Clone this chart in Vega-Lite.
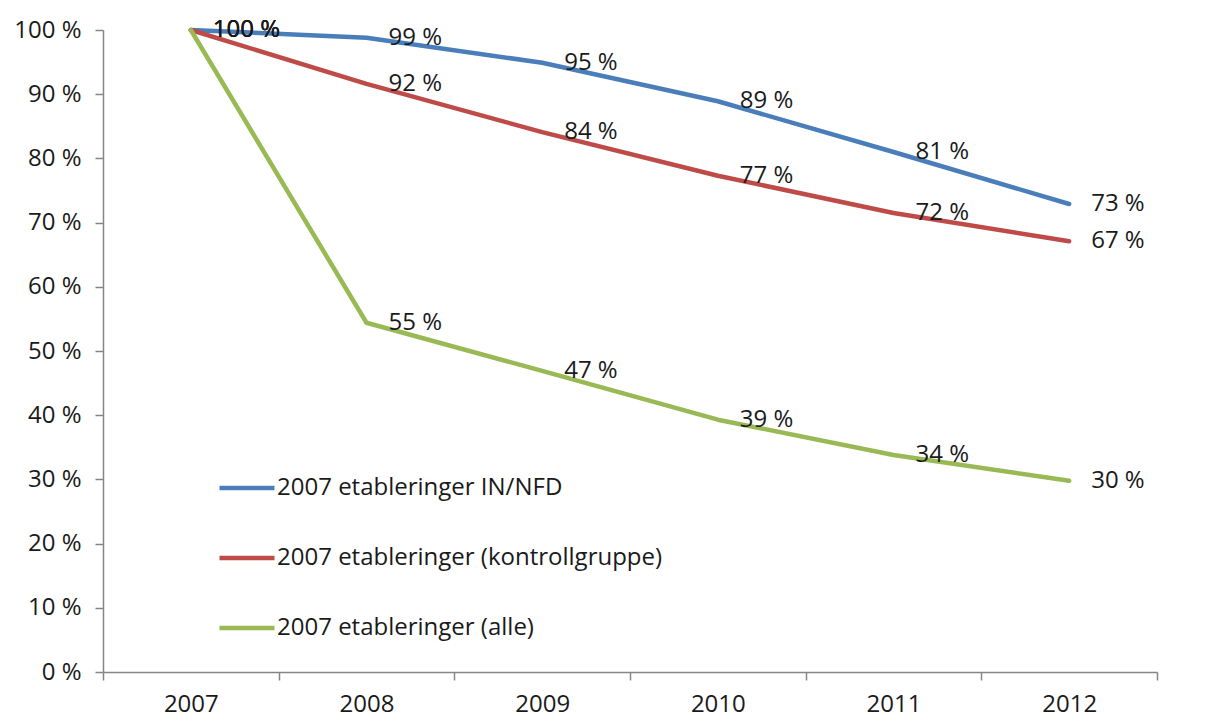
{
  "$schema": "https://vega.github.io/schema/vega-lite/v6.json",
  "width": 1054,
  "height": 642,
  "autosize": {"type": "none"},
  "padding": {"left": 103, "top": 30, "right": 62, "bottom": 50},
  "background": "white",
  "config": {"view": {"stroke": null}, "font": "Open Sans"},
  "data": {
    "values": [
      {"year": "2007", "series": "2007 etableringer IN/NFD", "value": 100, "label": "100 %"},
      {"year": "2008", "series": "2007 etableringer IN/NFD", "value": 98.8, "label": "99 %"},
      {"year": "2009", "series": "2007 etableringer IN/NFD", "value": 94.9, "label": "95 %"},
      {"year": "2010", "series": "2007 etableringer IN/NFD", "value": 88.9, "label": "89 %"},
      {"year": "2011", "series": "2007 etableringer IN/NFD", "value": 81.0, "label": "81 %"},
      {"year": "2012", "series": "2007 etableringer IN/NFD", "value": 72.9, "label": "73 %"},
      {"year": "2007", "series": "2007 etableringer (kontrollgruppe)", "value": 100, "label": "100 %"},
      {"year": "2008", "series": "2007 etableringer (kontrollgruppe)", "value": 91.6, "label": "92 %"},
      {"year": "2009", "series": "2007 etableringer (kontrollgruppe)", "value": 84.1, "label": "84 %"},
      {"year": "2010", "series": "2007 etableringer (kontrollgruppe)", "value": 77.3, "label": "77 %"},
      {"year": "2011", "series": "2007 etableringer (kontrollgruppe)", "value": 71.5, "label": "72 %"},
      {"year": "2012", "series": "2007 etableringer (kontrollgruppe)", "value": 67.1, "label": "67 %"},
      {"year": "2007", "series": "2007 etableringer (alle)", "value": 100, "label": "100 %"},
      {"year": "2008", "series": "2007 etableringer (alle)", "value": 54.4, "label": "55 %"},
      {"year": "2009", "series": "2007 etableringer (alle)", "value": 46.9, "label": "47 %"},
      {"year": "2010", "series": "2007 etableringer (alle)", "value": 39.3, "label": "39 %"},
      {"year": "2011", "series": "2007 etableringer (alle)", "value": 33.8, "label": "34 %"},
      {"year": "2012", "series": "2007 etableringer (alle)", "value": 29.8, "label": "30 %"}
    ]
  },
  "encoding": {
    "x": {
      "field": "year",
      "type": "ordinal",
      "bandPosition": 0.5,
      "scale": {"type": "band", "paddingInner": 0, "paddingOuter": 0},
      "axis": {
        "title": null,
        "labelAngle": 0,
        "tickBand": "extent",
        "domainColor": "#868686",
        "domainWidth": 1.5,
        "tickColor": "#868686",
        "tickWidth": 1.5,
        "tickSize": 8,
        "labelFont": "Open Sans",
        "labelFontSize": 24,
        "labelColor": "#1a1a1a",
        "labelPadding": 12
      }
    },
    "y": {
      "field": "value",
      "type": "quantitative",
      "scale": {"domain": [0, 100], "nice": false},
      "axis": {
        "title": null,
        "grid": false,
        "values": [0, 10, 20, 30, 40, 50, 60, 70, 80, 90, 100],
        "labelExpr": "datum.value + ' %'",
        "domainColor": "#868686",
        "domainWidth": 1.5,
        "tickColor": "#868686",
        "tickWidth": 1.5,
        "tickSize": 8,
        "labelFont": "Open Sans",
        "labelFontSize": 24,
        "labelColor": "#1a1a1a",
        "labelPadding": 14
      }
    }
  },
  "layer": [
    {
      "mark": {"type": "line", "strokeWidth": 4.5, "strokeCap": "round", "strokeJoin": "round"},
      "encoding": {
        "color": {
          "field": "series",
          "type": "nominal",
          "scale": {
            "domain": ["2007 etableringer IN/NFD", "2007 etableringer (kontrollgruppe)", "2007 etableringer (alle)"],
            "range": ["#4A7EBB", "#BE4B48", "#98B954"]
          },
          "legend": {
            "title": null,
            "orient": "none",
            "legendX": 114,
            "legendY": 428,
            "padding": 0,
            "symbolType": "stroke",
            "symbolSize": 3025,
            "symbolStrokeWidth": 4.5,
            "labelFont": "Open Sans",
            "labelFontSize": 24,
            "labelColor": "#1a1a1a",
            "labelOffset": 0,
            "rowPadding": 28,
            "labelLimit": 600
          }
        }
      }
    },
    {
      "mark": {"type": "text", "align": "left", "baseline": "middle", "dx": 22, "fontSize": 24, "font": "Open Sans", "color": "#1a1a1a"},
      "encoding": {
        "text": {"field": "label", "type": "nominal"}
      }
    }
  ]
}
